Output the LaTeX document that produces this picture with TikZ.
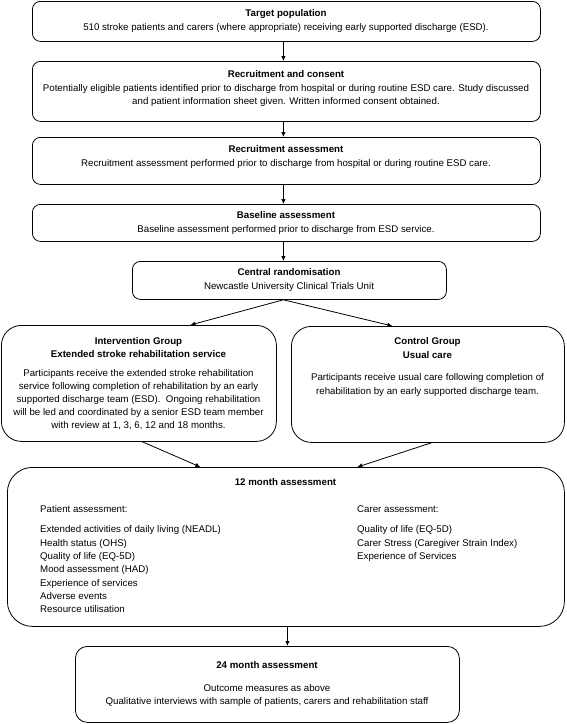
\documentclass[tikz,border=0pt]{standalone}
\usepackage{fontspec}
\setmainfont{Liberation Sans}
\usetikzlibrary{arrows.meta}
\begin{document}
\begin{tikzpicture}[x=1pt,y=-1pt,
  box/.style={draw, line width=0.8pt, inner sep=0pt, anchor=north west},
  txt/.style={inner sep=0pt, align=center, anchor=north, font=\fontsize{9.7}{13.5}\selectfont},
  ltxt/.style={inner sep=0pt, align=left, anchor=north west, font=\fontsize{9.7}{13.3}\selectfont},
  arr/.style={-{Latex[length=5pt,width=4.5pt]}, line width=0.8pt}]
\useasboundingbox (0,0) rectangle (567,724);
% boxes
\node[box, rounded corners=8pt, minimum width=508pt, minimum height=40pt] (b1) at (32,1) {};
\node[box, rounded corners=8pt, minimum width=508pt, minimum height=60pt] (b2) at (32,61) {};
\node[box, rounded corners=8pt, minimum width=508pt, minimum height=47pt] (b3) at (32,137) {};
\node[box, rounded corners=8pt, minimum width=508pt, minimum height=37pt] (b4) at (32,204) {};
\node[box, rounded corners=8pt, minimum width=314pt, minimum height=38pt] (b5) at (132,261) {};
\node[box, rounded corners=20pt, minimum width=275pt, minimum height=116pt] (b6) at (1,325) {};
\node[box, rounded corners=20pt, minimum width=273pt, minimum height=116pt] (b7) at (291,326) {};
\node[box, rounded corners=25pt, minimum width=557pt, minimum height=159pt] (b8) at (7,467) {};
\node[box, rounded corners=12pt, minimum width=384pt, minimum height=76pt] (b9) at (75,646) {};
% texts
\node[txt] (t1) at (286,7) {\strut\textbf{Target population}\\510 stroke patients and carers (where appropriate) receiving early supported discharge (ESD).};
\node[txt] (t2) at (286,68) {\strut\textbf{Recruitment and consent}\\Potentially eligible patients identified prior to discharge from hospital or during routine ESD care. Study discussed\\and patient information sheet given. Written informed consent obtained.};
\node[txt] (t3) at (286,143) {\strut\textbf{Recruitment assessment}\\Recruitment assessment performed prior to discharge from hospital or during routine ESD care.};
\node[txt] (t4) at (286,209) {\strut\textbf{Baseline assessment}\\Baseline assessment performed prior to discharge from ESD service.};
\node[txt] (t5) at (289,266) {\strut\textbf{Central randomisation}\\Newcastle University Clinical Trials Unit};
\node[txt, font=\fontsize{9.7}{13}\selectfont] (t6) at (138.5,335) {\strut\textbf{Intervention Group}\\\textbf{Extended stroke rehabilitation service}\\[6pt]Participants receive the extended stroke rehabilitation\\service following completion of rehabilitation by an early\\supported discharge team (ESD).\ \ Ongoing rehabilitation\\will be led and coordinated by a senior ESD team member\\with review at 1, 3, 6, 12 and 18 months.};
\node[txt] (t7) at (427.5,335) {\strut\textbf{Control Group}\\\textbf{Usual care}\\[9pt]Participants receive usual care following completion of\\rehabilitation by an early supported discharge team.};
\node[txt] (t8) at (285.5,476) {\strut\textbf{12 month assessment}};
\node[ltxt] (t8a) at (40,503) {\strut Patient assessment:\\[7pt]Extended activities of daily living (NEADL)\\Health status (OHS)\\Quality of life (EQ-5D)\\Mood assessment (HAD)\\Experience of services\\Adverse events\\Resource utilisation};
\node[ltxt] (t8b) at (357,503) {\strut Carer assessment:\\[7pt]Quality of life (EQ-5D)\\Carer Stress (Caregiver Strain Index)\\Experience of Services};
\node[txt] (t9) at (267,659) {\strut\textbf{24 month assessment}\\[9pt]Outcome measures as above\\Qualitative interviews with sample of patients, carers and rehabilitation staff};
% arrows
\draw[arr] ([xshift=-3pt]b1.south) -- ([xshift=-3pt]b2.north);
\draw[arr] ([xshift=-3pt]b2.south) -- ([xshift=-3pt]b3.north);
\draw[arr] ([xshift=-3pt]b3.south) -- ([xshift=-3pt]b4.north);
\draw[arr] ([xshift=-3pt]b4.south) -- ([xshift=-6pt]b5.north);
\draw[arr] ([xshift=-6pt]b5.south) -- ([xshift=51.5pt]b6.north);
\draw[arr] ([xshift=-6pt]b5.south) -- ([xshift=-35.5pt]b7.north);
\draw[arr] ([xshift=3.5pt]b6.south) -- ([xshift=-85.5pt]b8.north);
\draw[arr] ([xshift=3.5pt]b7.south) -- ([xshift=71.5pt]b8.north);
\draw[arr] ([xshift=1.5pt]b8.south) -- ([xshift=20pt]b9.north);
\end{tikzpicture}
\end{document}
